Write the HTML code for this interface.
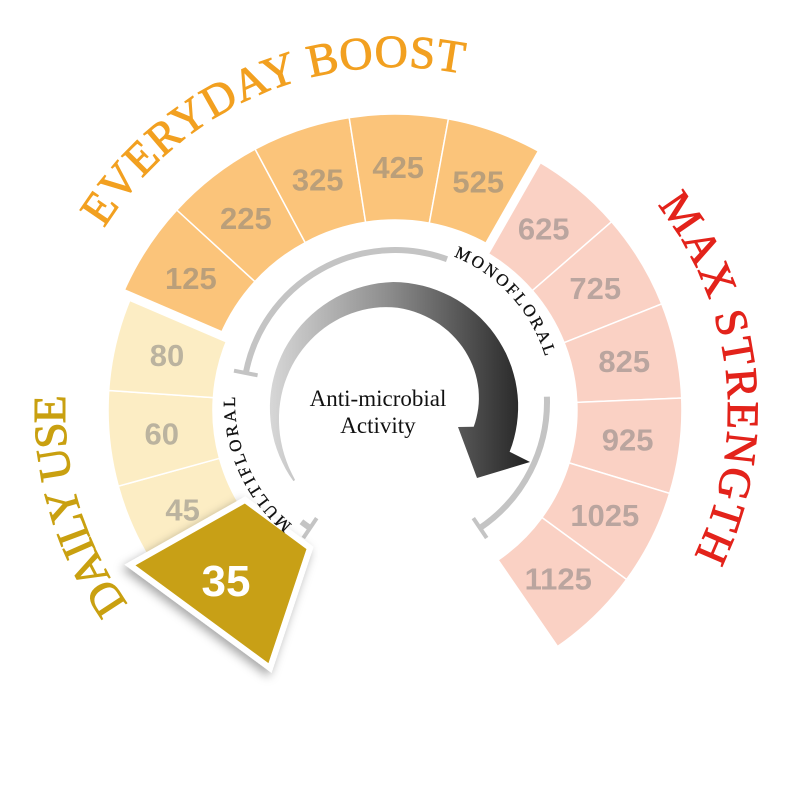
<!DOCTYPE html>
<html><head><meta charset="utf-8">
<style>html,body{margin:0;padding:0;background:#fff;}svg{display:block}</style>
</head><body>
<svg id="s" width="790" height="790" viewBox="0 0 790 790" xmlns="http://www.w3.org/2000/svg">
<defs>
<linearGradient id="ag" x1="265" y1="0" x2="535" y2="0" gradientUnits="userSpaceOnUse">
<stop offset="0" stop-color="#dadada"/><stop offset="0.45" stop-color="#8e8e8e"/><stop offset="1" stop-color="#1e1e1e"/>
</linearGradient>
<filter id="sh" x="-30%" y="-30%" width="160%" height="160%"><feDropShadow dx="-3" dy="4" stdDeviation="5" flood-color="#000" flood-opacity="0.35"/></filter>
<path id="pEv" d=""/><path id="pMax" d=""/><path id="pDaily" d=""/><path id="pMono" d=""/><path id="pMulti" d=""/>
</defs>
<g id="ring"></g>
<g id="inner"></g>
<polygon points="130,565 245,500 310,548 270,668" fill="#c8a012" stroke="#fff" stroke-width="6" stroke-linejoin="miter" filter="url(#sh)"/>
<text x="226" y="596" font-family="Liberation Sans, sans-serif" font-weight="bold" font-size="44" fill="#fff" text-anchor="middle">35</text>
<text font-family="Liberation Serif, serif" font-size="46" fill="#f2a020" stroke="#f2a020" stroke-width="0.9"><textPath href="#pEv" textLength="415" lengthAdjust="spacing">EVERYDAY BOOST</textPath></text>
<text font-family="Liberation Serif, serif" font-size="45" fill="#e3231b" stroke="#e3231b" stroke-width="0.9"><textPath href="#pMax" textLength="372" lengthAdjust="spacing">MAX STRENGTH</textPath></text>
<text font-family="Liberation Serif, serif" font-size="46" fill="#c9a010" stroke="#c9a010" stroke-width="0.9"><textPath href="#pDaily" textLength="222" lengthAdjust="spacing">DAILY USE</textPath></text>
<text font-family="Liberation Serif, serif" font-size="17" fill="#111" stroke="#111" stroke-width="0.3"><textPath href="#pMono" textLength="140" lengthAdjust="spacing">MONOFLORAL</textPath></text>
<text font-family="Liberation Serif, serif" font-size="17" fill="#111" stroke="#111" stroke-width="0.3"><textPath href="#pMulti" textLength="145" lengthAdjust="spacing">MULTIFLORAL</textPath></text>
<text x="378" y="406" font-family="Liberation Serif, serif" font-size="23" fill="#111" text-anchor="middle">Anti-microbial</text>
<text x="378" y="433" font-family="Liberation Serif, serif" font-size="23" fill="#111" text-anchor="middle">Activity</text>
</svg>
<script>
var NS="http://www.w3.org/2000/svg";
var cx=395,cy=410;
function P(r,a){var t=a*Math.PI/180;return [cx+r*Math.cos(t),cy+r*Math.sin(t)];}
function PC(x0,y0,r,a){var t=a*Math.PI/180;return [x0+r*Math.cos(t),y0+r*Math.sin(t)];}
function f(p){return p[0].toFixed(1)+","+p[1].toFixed(1);}
function arcD(x0,y0,r,a0,a1){var s=PC(x0,y0,r,a0),e=PC(x0,y0,r,a1);var large=Math.abs(a1-a0)>180?1:0;var sw=a1>a0?1:0;return "M"+f(s)+" A"+r+","+r+" 0 "+large+" "+sw+" "+f(e);}
function el(n,at,par){var e=document.createElementNS(NS,n);for(var k in at)e.setAttribute(k,at[k]);(par||document.getElementById('s')).appendChild(e);return e;}
var ring=document.getElementById('ring'),inner=document.getElementById('inner');
var labels=["35","45","60","80","125","225","325","425","525","625","725","825","925","1025","1125"];
var start=126,step=19.3;
for(var i=0;i<15;i++){
 var a0=start+i*step,a1=a0+step;
 var grp=i<4?0:(i<9?1:2);
 var col=["#fcedc4","#fbc47a","#fad1c4"][grp];
 var ro=grp==1?296:287, ri=grp==1?190:182;
 if(i==0)continue;
 var d="M"+f(P(ri,a0))+" L"+f(P(ro,a0))+" A"+ro+","+ro+" 0 0 1 "+f(P(ro,a1))+" L"+f(P(ri,a1))+" A"+ri+","+ri+" 0 0 0 "+f(P(ri,a0))+"Z";
 el("path",{d:d,fill:col,stroke:"#fff","stroke-width":1.5},ring);
 var m=(a0+a1)/2,p=P((ri+ro)/2,m);
 el("text",{x:p[0].toFixed(1),y:(p[1]+11).toFixed(1),"font-family":"Liberation Sans, sans-serif","font-weight":"bold","font-size":"31","fill":"#7a7a7a","fill-opacity":"0.5","text-anchor":"middle"},ring).textContent=labels[i];
}
[start+4*step,start+9*step].forEach(function(a){el("path",{d:"M"+f(P(175,a))+" L"+f(P(305,a)),stroke:"#fff","stroke-width":9},ring);});
document.getElementById('pEv').setAttribute('d',arcD(cx,cy,343,212,284));
document.getElementById('pMax').setAttribute('d',arcD(cx,cy,333,322,388));
document.getElementById('pDaily').setAttribute('d',arcD(cx,cy,330,144,183));
var gx=395,gy=402;
document.getElementById('pMono').setAttribute('d',arcD(gx,gy,157,292,354));
document.getElementById('pMulti').setAttribute('d',arcD(gx,gy,160,130,188));
el("path",{d:arcD(gx,gy,152,191,290),fill:"none",stroke:"#c4c4c4","stroke-width":6},inner);
el("path",{d:arcD(gx,gy,152,358,416),fill:"none",stroke:"#c4c4c4","stroke-width":6},inner);
el("path",{d:arcD(gx,gy,152,124,128),fill:"none",stroke:"#c4c4c4","stroke-width":6},inner);
function cap(a){var p1=PC(gx,gy,140,a),p2=PC(gx,gy,164,a);el("path",{d:"M"+f(p1)+" L"+f(p2),stroke:"#c4c4c4","stroke-width":4},inner);}
cap(191);cap(416);cap(124);
var ax=395,ay=410,pts1=[],pts2=[],N=70,aS=145;
function roF(a){return a<270?(124+4*(a-145)/125):(128-6*(a-270)/110);}
for(var k=0;k<=N;k++){var t=k/N;
 var b1=aS+(380-aS)*t, b2=aS+(372-aS)*t;
 var w=2+40*Math.pow(t,0.9);
 pts1.push(PC(ax,ay,roF(b1),b1));
 pts2.push(PC(ax,ay,roF(b2)-w,b2));}
var dd="M"+pts1.map(f).join(" L")+" L530,462 L477,478 L458,427 L"+pts2.reverse().map(f).join(" L")+"Z";
el("path",{d:dd,fill:"url(#ag)"},inner);
</script>
</body></html>
